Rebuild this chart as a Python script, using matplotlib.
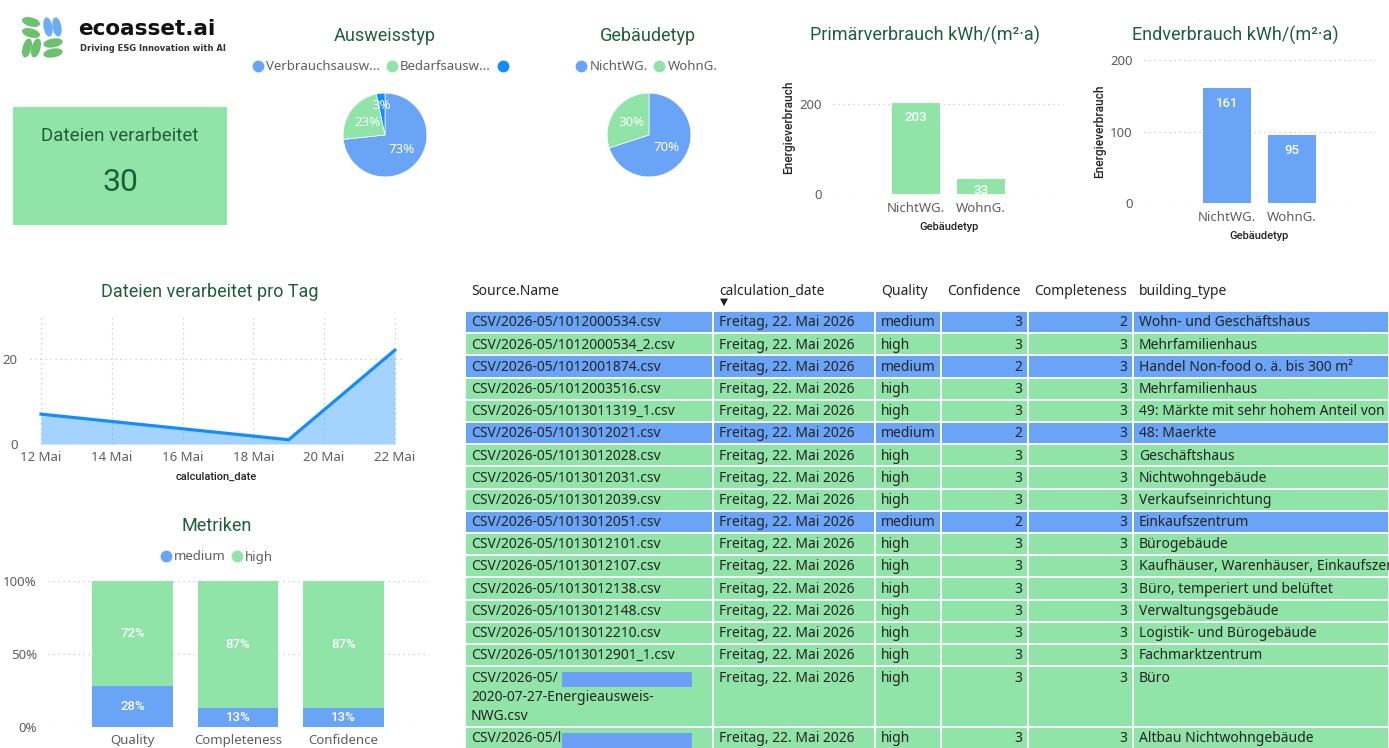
import matplotlib.pyplot as plt
import matplotlib.dates as mdates
import numpy as np
from matplotlib.lines import Line2D
from matplotlib.patches import Ellipse, Rectangle
from matplotlib.ticker import FuncFormatter

plt.rcParams['font.family'] = ['Noto Sans', 'DejaVu Sans']

W, H = 1389, 748
BLUE = '#6AA4F6'
GREEN = '#90E4A8'
BRIGHT = '#118DFF'
TITLE_C = '#1F5E3B'
TICK_C = '#605E5C'
TEXT_C = '#252423'
GRID_C = '#C8C6C4'
TITLE_FONT = ['Roboto', 'DejaVu Sans']

# ---- data ----
files_processed = 30

ausweis_labels = ['Verbrauchsausw...', 'Bedarfsausw...', '']
ausweis_counts = [22, 7, 1]

gebaeude_labels = ['NichtWG.', 'WohnG.']
gebaeude_counts = [21, 9]

primaer_kwh = [203, 33]
end_kwh = [161, 95]

day_dates = ['2026-05-12', '2026-05-19', '2026-05-22']
day_counts = [7, 1, 22]

metric_names = ['Quality', 'Completeness', 'Confidence']
metric_medium = [28, 13, 13]
metric_high = [72, 87, 87]

table_header = ['Source.Name', 'calculation_date', 'Quality', 'Confidence',
                'Completeness', 'building_type']
source_names = [
    'CSV/2026-05/1012000534.csv',
    'CSV/2026-05/1012000534_2.csv',
    'CSV/2026-05/1012001874.csv',
    'CSV/2026-05/1012003516.csv',
    'CSV/2026-05/1013011319_1.csv',
    'CSV/2026-05/1013012021.csv',
    'CSV/2026-05/1013012028.csv',
    'CSV/2026-05/1013012031.csv',
    'CSV/2026-05/1013012039.csv',
    'CSV/2026-05/1013012051.csv',
    'CSV/2026-05/1013012101.csv',
    'CSV/2026-05/1013012107.csv',
    'CSV/2026-05/1013012138.csv',
    'CSV/2026-05/1013012148.csv',
    'CSV/2026-05/1013012210.csv',
    'CSV/2026-05/1013012901_1.csv',
    'CSV/2026-05/\n2020-07-27-Energieausweis-\nNWG.csv',
    'CSV/2026-05/l',
]
calc_dates = ['Freitag, 22. Mai 2026'] * len(source_names)
quality = ['medium', 'high', 'medium', 'high', 'high', 'medium', 'high', 'high', 'high',
           'medium', 'high', 'high', 'high', 'high', 'high', 'high', 'high', 'high']
confidence = [3, 3, 2, 3, 3, 2, 3, 3, 3, 2, 3, 3, 3, 3, 3, 3, 3, 3]
completeness = [2, 3, 3, 3, 3, 3, 3, 3, 3, 3, 3, 3, 3, 3, 3, 3, 3, 3]
building_type = [
    'Wohn- und Geschäftshaus', 'Mehrfamilienhaus', 'Handel Non-food o. ä. bis 300 m²',
    'Mehrfamilienhaus', '49: Märkte mit sehr hohem Anteil von', '48: Maerkte',
    'Geschäftshaus', 'Nichtwohngebäude', 'Verkaufseinrichtung', 'Einkaufszentrum',
    'Bürogebäude', 'Kaufhäuser, Warenhäuser, Einkaufszentren', 'Büro, temperiert und belüftet',
    'Verwaltungsgebäude', 'Logistik- und Bürogebäude', 'Fachmarktzentrum', 'Büro',
    'Altbau Nichtwohngebäude',
]
redacted = [False] * 16 + [True, True]


fig = plt.figure(figsize=(W / 100, H / 100), dpi=100)


def px_axes(left, top, width, height):
    return fig.add_axes([left / W, 1 - (top + height) / H, width / W, height / H])


def clean(ax):
    for s in ax.spines.values():
        s.set_visible(False)
    ax.tick_params(length=0, colors=TICK_C, labelsize=9.5)


def legend(handles_colors, labels, x, y):
    handles = [Line2D([], [], marker='o', linestyle='', markersize=7.5, color=c)
               for c in handles_colors]
    fig.legend(handles, labels, loc='center', bbox_to_anchor=(x / W, 1 - y / H),
               ncol=len(labels), frameon=False, handletextpad=0.25, columnspacing=0.55,
               handlelength=0.7, fontsize=9.5, labelcolor=TICK_C, borderaxespad=0)


def axis_label_font(size=8):
    return dict(fontsize=size, color=TEXT_C, family=TITLE_FONT, fontweight='medium')


# background axes in pixel coordinates for card, titles, table, logo text
bg = px_axes(0, 0, W, H)
bg.set_xlim(0, W)
bg.set_ylim(H, 0)
bg.axis('off')

# logo
logo = px_axes(18, 14, 50, 48)
logo.set_xlim(18, 68)
logo.set_ylim(62, 14)
logo.axis('off')
leaf_g = '#6CC070'
leaf_b = '#6BAEF2'
for cx, cy, w, h, a, c in [(31, 22, 17, 7.5, 15, leaf_g), (31, 33, 17, 7.5, 15, leaf_g),
                           (48, 27, 7.5, 18, -10, leaf_b), (57, 27, 7.5, 18, -10, leaf_b),
                           (27, 48, 7.5, 18, 15, leaf_g), (36, 48, 7.5, 18, 15, leaf_g),
                           (53, 43, 18, 7.5, -10, leaf_g), (53, 53, 18, 7.5, -10, leaf_g)]:
    logo.add_patch(Ellipse((cx, cy), w, h, angle=a, color=c))
bg.text(78, 29, 'ecoasset.ai', fontsize=15.5, fontweight='bold', color='#111111',
        va='center', ha='left', family='DejaVu Sans')
bg.text(80, 48, 'Driving ESG Innovation with AI', fontsize=6, fontweight='bold',
        color='#333333', va='center', ha='left', family='DejaVu Sans')

# KPI card
bg.add_patch(Rectangle((13, 107), 214, 118, facecolor=GREEN, edgecolor='none'))
bg.text(120, 136, 'Dateien verarbeitet', fontsize=13.5, color=TITLE_C, ha='center',
        va='center', family=TITLE_FONT)
bg.text(120, 182, str(files_processed), fontsize=23, color=TITLE_C, ha='center',
        va='center', family=TITLE_FONT)

# titles
for txt, x, y in [('Ausweisstyp', 385, 36), ('Gebäudetyp', 648, 36),
                  ('Primärverbrauch kWh/(m²·a)', 925, 35), ('Endverbrauch kWh/(m²·a)', 1235, 35),
                  ('Dateien verarbeitet pro Tag', 210, 292), ('Metriken', 217, 526)]:
    bg.text(x, y, txt, fontsize=13, color=TITLE_C, ha='center', va='center',
            family=TITLE_FONT)

# pies
for box, counts, colors, labels, lx in [
        ((341, 91, 88, 88), ausweis_counts, [BLUE, GREEN, BRIGHT], ausweis_labels, 382),
        ((605, 91, 88, 88), gebaeude_counts, [BLUE, GREEN], gebaeude_labels, 647)]:
    ax = px_axes(*box)
    wedges, _, autos = ax.pie(counts, colors=colors, startangle=90, counterclock=False,
                              autopct='%.0f%%', pctdistance=0.52,
                              wedgeprops=dict(edgecolor='white', linewidth=0.5),
                              textprops=dict(color='white', fontsize=9.5))
    for t, v in zip(autos, counts):
        if v / sum(counts) < 0.05:
            px, py = t.get_position()
            t.set_position((px * 1.35, py * 1.35))
    ax.set_xlim(-1.05, 1.05)
    ax.set_ylim(-1.05, 1.05)
    legend(colors, labels, lx, 67)


# bar charts
def bar_panel(box, values, color, ylim_top, yticks, xtick_pad, xlabel_pad):
    ax = px_axes(*box)
    clean(ax)
    x = np.arange(len(values))
    bars = ax.bar(x, values, width=0.75, color=color)
    px_per_unit = box[3] / ylim_top
    for b, v in zip(bars, values):
        off = min(15, 0.75 * v * px_per_unit)
        ax.annotate(str(v), (b.get_x() + b.get_width() / 2, v), xytext=(0, -off),
                    textcoords='offset pixels', ha='center', va='center',
                    color='white', fontsize=9.5, family=TITLE_FONT, fontweight='medium')
    ax.set_xlim(-1.28, 2.28)
    ax.set_ylim(0, ylim_top)
    ax.set_yticks(yticks)
    ax.set_xticks(x, gebaeude_labels)
    ax.tick_params(axis='y', pad=8)
    ax.tick_params(axis='x', pad=xtick_pad)
    ax.grid(axis='y', color=GRID_C, linestyle=(0, (1, 3)), linewidth=0.9)
    ax.set_axisbelow(True)
    ax.set_ylabel('Energieverbrauch', labelpad=3, **axis_label_font(8.6))
    ax.set_xlabel('Gebäudetyp', labelpad=xlabel_pad, **axis_label_font())
    return ax


bar_panel((833, 60, 231, 134), primaer_kwh, GREEN, 298, [0, 200], 6, 5)
bar_panel((1144, 59, 231, 144), end_kwh, BLUE, 202, [0, 100, 200], 6, 5)

# daily line chart
ax = px_axes(30, 316, 373, 128)
clean(ax)
dates = np.array(day_dates, dtype='datetime64[D]')
ax.fill_between(dates, day_counts, color=BRIGHT, alpha=0.38, linewidth=0)
ax.plot(dates, day_counts, color=BRIGHT, linewidth=2.3)
d0 = mdates.date2num(dates[0])
d1 = mdates.date2num(dates[-1])
ax.set_xlim(d0 - 0.31, d1 + 0.23)
ax.set_ylim(0, 30)
ax.set_yticks([0, 20])
ax.xaxis.set_major_locator(mdates.DayLocator(bymonthday=[12, 14, 16, 18, 20, 22]))
ax.xaxis.set_major_formatter(FuncFormatter(lambda v, p: f'{mdates.num2date(v).day} Mai'))
ax.tick_params(axis='y', pad=9)
ax.tick_params(axis='x', pad=5)
ax.grid(True, color=GRID_C, linestyle=(0, (1, 3)), linewidth=0.9)
ax.set_axisbelow(True)
ax.set_xlabel('calculation_date', labelpad=6, **axis_label_font())

# metrics stacked bars
ax = px_axes(48, 581, 381, 146)
clean(ax)
x = np.arange(len(metric_names))
b1 = ax.bar(x, metric_medium, width=0.76, color=BLUE)
b2 = ax.bar(x, metric_high, width=0.76, bottom=metric_medium, color=GREEN)
for b in (b1, b2):
    ax.bar_label(b, labels=[f'{v}%' for v in b.datavalues], label_type='center',
                 color='white', fontsize=9.5, family=TITLE_FONT, fontweight='medium')
ax.set_xlim(-0.8, 2.81)
ax.set_ylim(0, 100)
ax.set_yticks([0, 50, 100])
ax.yaxis.set_major_formatter(FuncFormatter(lambda v, p: f'{v:.0f}%'))
ax.set_xticks(x, metric_names)
ax.tick_params(axis='y', pad=8)
ax.tick_params(axis='x', pad=5)
ax.grid(axis='y', color=GRID_C, linestyle=(0, (1, 3)), linewidth=0.9)
ax.set_axisbelow(True)
legend([BLUE, GREEN], ['medium', 'high'], 217, 557)

# table
col_left = [465, 713, 875, 941, 1028, 1133]
col_right = col_left[1:] + [W]
numeric_cols = [3, 4]
for c, name in enumerate(table_header):
    bg.text(col_left[c] + 6, 291, name, fontsize=10, color=TEXT_C, va='center')
bg.text(724, 302, '▼', fontsize=7.5, color='#222222', ha='center', va='center',
        family='DejaVu Sans')

line_h = 19.3
y = 311.0
for i in range(len(source_names)):
    name_lines = source_names[i].split('\n')
    h = 2.9 + line_h * len(name_lines)
    color = BLUE if quality[i] == 'medium' else GREEN
    for c in range(len(col_left)):
        bg.add_patch(Rectangle((col_left[c], y), col_right[c] - col_left[c], h,
                               facecolor=color, edgecolor='white', linewidth=1.3))
    cells = [name_lines, [calc_dates[i]], [quality[i]], [str(confidence[i])],
             [str(completeness[i])], [building_type[i]]]
    for c, lines in enumerate(cells):
        for k, t in enumerate(lines):
            ty = y + 11.8 + k * line_h
            if c in numeric_cols:
                bg.text(col_right[c] - 6, ty, t, fontsize=10, color=TEXT_C,
                        ha='right', va='center')
            else:
                bg.text(col_left[c] + 6, ty, t, fontsize=10, color=TEXT_C,
                        ha='left', va='center', clip_on=True)
    if redacted[i]:
        bg.add_patch(Rectangle((col_left[0] + 97, y + 6), 130, 15,
                               facecolor='#6C9FF6', edgecolor='none'))
    y += h

fig.savefig('out.png', dpi=100)
